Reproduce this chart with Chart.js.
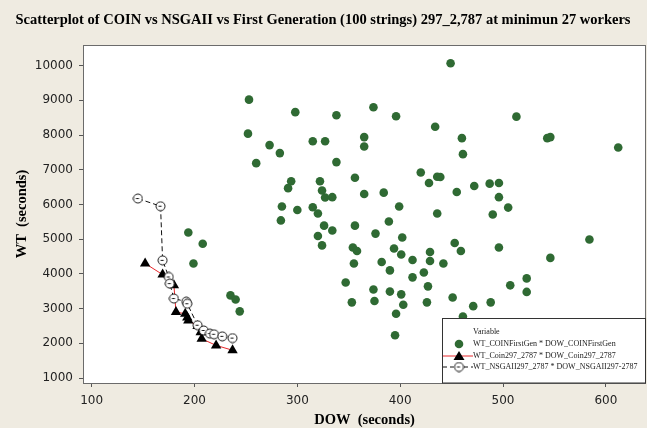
<!DOCTYPE html>
<html>
<head>
<meta charset="utf-8">
<script src="https://cdn.jsdelivr.net/npm/chart.js@4"></script>
<style>
  html, body { margin: 0; padding: 0; background: #efebe1; }
  #chart { display: block; }
</style>
</head>
<body>
<canvas id="chart" width="647" height="428"></canvas>
<script>
// first generation (100 strings)
const firstGenDow = [253, 298, 338, 374, 396, 434, 252, 273, 283, 315, 327, 365, 365, 260, 338, 420, 428, 436, 439, 294,
    291, 322, 324, 356, 365, 384, 327, 334, 449, 513, 460, 543, 546, 612, 461, 455, 472, 487, 496, 496,
    285, 300, 315, 320, 399, 436, 284, 326, 334, 356, 389, 320, 376, 402, 324, 354, 358, 394, 401, 429,
    412, 429, 355, 382, 390, 423, 412, 347, 427, 374, 390, 401, 353, 375, 426, 403, 396, 395, 235, 240,
    244, 194, 208, 199, 505, 490, 584, 453, 459, 496, 442, 546, 451, 471, 488, 507, 523, 523, 461];
const firstGenWt = [9020, 8660, 8570, 8800, 8540, 8240, 8040, 7710, 7480, 7820, 7820, 7940, 7670, 7190, 7220, 6920, 6620, 6800, 6790, 6670,
    6470, 6670, 6400, 6770, 6300, 6340, 6200, 6210, 10070, 8530, 7910, 7910, 7940, 7640, 7450, 6360, 6530, 6600, 6620, 6210,
    5940, 5840, 5920, 5740, 5940, 5740, 5540, 5390, 5250, 5390, 5510, 5090, 5160, 5050, 4820, 4760, 4660, 4730, 4560, 4630,
    4400, 4370, 4300, 4340, 4100, 4040, 3900, 3750, 3640, 3550, 3490, 3410, 3180, 3220, 3180, 3110, 2850, 2230, 3380, 3260,
    2920, 5190, 4870, 4300, 5910, 5710, 4990, 4890, 4660, 4760, 4300, 4460, 3320, 3070, 3180, 3670, 3870, 3480, 2770];

// COIN front
const coinDow = [152, 169, 180, 182, 191, 193, 194, 203, 206, 207, 221, 237];
const coinWt = [4300, 3980, 3670, 2900, 2850, 2740, 2660, 2500, 2320, 2130, 1940, 1800];

// NSGAII front
const nsgaDow = [145, 167, 169, 175, 176, 180, 192, 193, 203, 209, 215, 219, 227, 237];
const nsgaWt = [6170, 5950, 4390, 3910, 3720, 3290, 3200, 3140, 2520, 2370, 2280, 2260, 2200, 2150];

const xTicks = [100, 200, 300, 400, 500, 600];
const yTicks = [1000, 2000, 3000, 4000, 5000, 6000, 7000, 8000, 9000, 10000];

const seriesNames = [
    'WT_COINFirstGen * DOW_COINFirstGen',
    'WT_Coin297_2787 * DOW_Coin297_2787',
    'WT_NSGAII297_2787 * DOW_NSGAII297-2787'
];

const green = '#2f6a33';
const serif = '"Liberation Serif", "Times New Roman", serif';

function toPoints(xs, ys) {
    return xs.map((x, i) => ({ x: x, y: ys[i] }));
}

// minitab style open circle with a little dash inside
function makeCircleSymbol() {
    const c = document.createElement('canvas');
    c.width = 11;
    c.height = 11;
    const g = c.getContext('2d');
    g.fillStyle = '#fff';
    g.strokeStyle = '#111';
    g.lineWidth = 1;
    g.beginPath();
    g.arc(5.5, 5.5, 4.5, 0, Math.PI * 2);
    g.fill();
    g.stroke();
    g.beginPath();
    g.moveTo(3.5, 5.5);
    g.lineTo(6.5, 5.5);
    g.stroke();
    return c;
}
const circleSymbol = makeCircleSymbol();

const framePlugin = {
    id: 'frame',
    beforeDraw(chart) {
        const { ctx, chartArea: a } = chart;
        ctx.save();
        ctx.fillStyle = '#efebe1';
        ctx.fillRect(0, 0, chart.width, chart.height);
        ctx.fillStyle = '#fff';
        ctx.fillRect(a.left, a.top, a.right - a.left, a.bottom - a.top);
        ctx.restore();
    },
    afterDraw(chart) {
        const { ctx, chartArea: a } = chart;
        ctx.save();
        ctx.strokeStyle = '#6b6b6b';
        ctx.lineWidth = 1;
        ctx.strokeRect(a.left + 0.5, a.top + 0.5, a.right - a.left - 1, a.bottom - a.top);

        // legend box in the lower right corner
        const lx = a.left + 359, ly = a.bottom - 65, lw = a.right - lx, lh = 65;
        ctx.fillStyle = '#fff';
        ctx.fillRect(lx, ly, lw, lh);
        ctx.strokeStyle = '#333';
        ctx.strokeRect(lx + 0.5, ly + 0.5, lw - 1, lh - 0.5);

        ctx.fillStyle = '#222';
        ctx.font = '8px ' + serif;
        ctx.textBaseline = 'middle';
        ctx.fillText('Variable', lx + 31, ly + 14);
        const sx = lx + 17;
        const rows = [ly + 26, ly + 38, ly + 49];

        ctx.fillStyle = green;
        ctx.beginPath();
        ctx.arc(sx, rows[0], 4.3, 0, Math.PI * 2);
        ctx.fill();

        ctx.strokeStyle = '#e8282c';
        ctx.beginPath();
        ctx.moveTo(lx + 1, rows[1]);
        ctx.lineTo(lx + 31, rows[1]);
        ctx.stroke();
        ctx.fillStyle = '#000';
        ctx.beginPath();
        ctx.moveTo(sx, rows[1] - 5);
        ctx.lineTo(sx + 5.5, rows[1] + 4);
        ctx.lineTo(sx - 5.5, rows[1] + 4);
        ctx.closePath();
        ctx.fill();

        ctx.strokeStyle = '#111';
        ctx.setLineDash([4, 3]);
        ctx.beginPath();
        ctx.moveTo(lx + 1, rows[2]);
        ctx.lineTo(lx + 31, rows[2]);
        ctx.stroke();
        ctx.setLineDash([]);
        ctx.drawImage(circleSymbol, sx - 5.5, rows[2] - 5.5);

        ctx.fillStyle = '#222';
        seriesNames.forEach((name, i) => ctx.fillText(name, lx + 31, rows[i]));
        ctx.restore();
    }
};

new Chart(document.getElementById('chart'), {
    type: 'scatter',
    data: {
        datasets: [
            {
                label: seriesNames[0],
                data: toPoints(firstGenDow, firstGenWt),
                pointRadius: 4.3,
                pointHoverRadius: 4.3,
                backgroundColor: green,
                borderColor: green,
                borderWidth: 0,
                order: 3
            },
            {
                label: seriesNames[1],
                data: toPoints(coinDow, coinWt),
                showLine: true,
                borderColor: '#e8282c',
                borderWidth: 1,
                pointStyle: 'triangle',
                pointRadius: 6,
                pointHoverRadius: 6,
                pointBackgroundColor: '#000',
                pointBorderColor: '#000',
                pointBorderWidth: 0,
                order: 2
            },
            {
                label: seriesNames[2],
                data: toPoints(nsgaDow, nsgaWt),
                showLine: true,
                borderColor: '#111',
                borderWidth: 1,
                borderDash: [5, 3],
                pointStyle: circleSymbol,
                order: 1
            }
        ]
    },
    options: {
        responsive: false,
        animation: false,
        events: [],
        layout: { autoPadding: false, padding: { top: 0, right: 1, left: 0, bottom: 0 } },
        plugins: {
            legend: { display: false },
            tooltip: { enabled: false },
            title: {
                display: true,
                text: 'Scatterplot of COIN vs NSGAII vs First Generation (100 strings) 297_2,787 at minimun 27 workers',
                color: '#000',
                font: { family: serif, size: 14.5, weight: 'bold' },
                padding: { top: 12, bottom: 15.6 }
            }
        },
        scales: {
            x: {
                type: 'linear',
                min: 91.6,
                max: 639,
                afterBuildTicks: s => { s.ticks = xTicks.map(v => ({ value: v })); },
                afterFit: s => { s.height = 45; s.paddingLeft = 0; s.paddingRight = 0; },
                grid: { drawOnChartArea: false, drawTicks: true, tickLength: 4, color: '#555' },
                border: { display: false },
                ticks: {
                    color: '#222',
                    padding: 7,
                    callback: v => String(v),
                    font: { family: '"DejaVu Sans", sans-serif', size: 12 }
                },
                title: {
                    display: true,
                    text: 'DOW  (seconds)',
                    color: '#000',
                    font: { family: serif, size: 14.5, weight: 'bold' },
                    padding: { top: 0, bottom: -1 }
                }
            },
            y: {
                type: 'linear',
                min: 856,
                max: 10594,
                afterBuildTicks: s => { s.ticks = yTicks.map(v => ({ value: v })); },
                afterFit: s => { s.width = 83; s.paddingTop = 0; s.paddingBottom = 0; },
                grid: { drawOnChartArea: false, drawTicks: true, tickLength: 4, color: '#555' },
                border: { display: false },
                ticks: {
                    color: '#222',
                    padding: 6,
                    callback: v => String(v),
                    font: { family: '"DejaVu Sans", sans-serif', size: 12 }
                },
                title: {
                    display: true,
                    text: 'WT  (seconds)',
                    color: '#000',
                    font: { family: serif, size: 14.5, weight: 'bold' },
                    padding: { top: 14, bottom: 0 }
                }
            }
        }
    },
    plugins: [framePlugin]
});
</script>
</body>
</html>
